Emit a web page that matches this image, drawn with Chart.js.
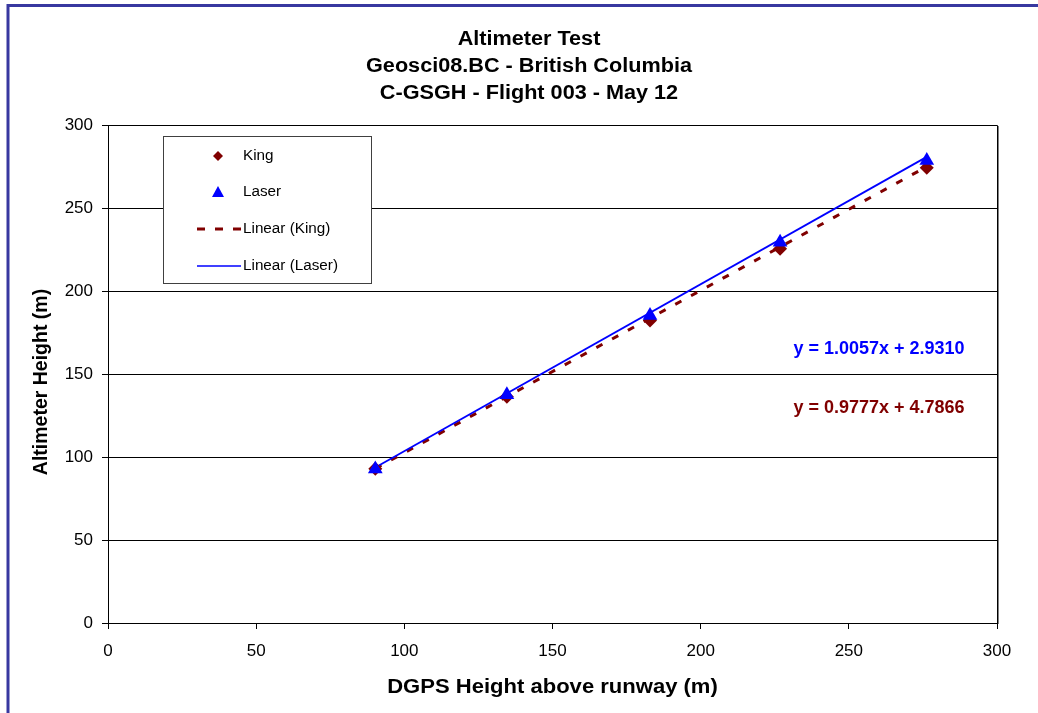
<!DOCTYPE html>
<html>
<head>
<meta charset="utf-8">
<script src="https://cdn.jsdelivr.net/npm/chart.js@4/dist/chart.umd.min.js"></script>
<style>
html,body{margin:0;padding:0;background:#fff;}
#wrap{width:1038px;height:713px;position:relative;}
</style>
</head>
<body>
<div id="wrap"><canvas id="c" width="1038" height="713"></canvas></div>
<script>
// ---- Data ----
const titleLines = ["Altimeter Test", "Geosci08.BC - British Columbia", "C-GSGH - Flight 003 - May 12"];
const xTitle = "DGPS Height above runway (m)";
const yTitle = "Altimeter Height (m)";
const dgpsHeight = [90.2, 134.6, 182.9, 226.8, 276.3];
const kingHeight = [92.9, 136.3, 182.2, 225.5, 274.3];
const laserHeight = [92.8, 137.5, 185.2, 229.4, 278.6];
const kingFit = [0.9777, 4.7866];   // slope, intercept
const laserFit = [1.0057, 2.9310];
const kingEq = "y = 0.9777x + 4.7866";
const laserEq = "y = 1.0057x + 2.9310";
const legendLabels = ["King", "Laser", "Linear (King)", "Linear (Laser)"];
const axisTicks = [0, 50, 100, 150, 200, 250, 300];

const FONT = "'Liberation Sans', Arial, sans-serif";
const KING_C = "#800000";
const LASER_C = "#0000ff";

const pts = (xs, ys) => xs.map((x, i) => ({x: x, y: ys[i]}));
const xMin = Math.min(...dgpsHeight), xMax = Math.max(...dgpsHeight);
const fitLine = (f) => [{x: xMin, y: f[0] * xMin + f[1]}, {x: xMax, y: f[0] * xMax + f[1]}];

function stretchText(ctx, text, x, y, sx) {
  ctx.save();
  ctx.translate(x, y);
  ctx.scale(sx, 1);
  ctx.fillText(text, 0, 0);
  ctx.restore();
}

const overlay = {
  id: 'overlay',
  beforeDraw(chart) {
    const ctx = chart.ctx;
    ctx.save();
    ctx.fillStyle = '#fff';
    ctx.fillRect(0, 0, chart.width, chart.height);
    ctx.restore();
  },
  afterDraw(chart) {
    const ctx = chart.ctx;
    const ca = chart.chartArea;
    ctx.save();
    // outer border (top & left visible)
    ctx.strokeStyle = '#3838a0';
    ctx.lineWidth = 3;
    ctx.beginPath();
    ctx.moveTo(8, 713);
    ctx.lineTo(8, 5.5);
    ctx.lineTo(1040, 5.5);
    ctx.stroke();

    // plot frame
    ctx.strokeStyle = '#000';
    ctx.lineWidth = 1;
    ctx.beginPath();
    ctx.moveTo(ca.left, ca.top + 0.5);
    ctx.lineTo(ca.right + 0.5, ca.top + 0.5);
    ctx.lineTo(ca.right + 0.5, ca.bottom);
    ctx.stroke();
    ctx.strokeStyle = '#808080';
    ctx.beginPath();
    ctx.moveTo(ca.right + 1.5, ca.top + 1);
    ctx.lineTo(ca.right + 1.5, ca.bottom + 1);
    ctx.stroke();

    // titles
    ctx.fillStyle = '#000';
    ctx.textAlign = 'center';
    ctx.textBaseline = 'middle';
    ctx.font = "bold 19.5px " + FONT;
    const tys = [40, 67, 94];
    titleLines.forEach((t, i) => stretchText(ctx, t, 529, tys[i], 1.11));

    // axis titles
    ctx.font = "bold 19.5px " + FONT;
    stretchText(ctx, xTitle, (ca.left + ca.right) / 2, 688, 1.13);
    ctx.save();
    ctx.translate(42, 382);
    ctx.rotate(-Math.PI / 2);
    ctx.fillText(yTitle, 0, 0);
    ctx.restore();

    // equations
    ctx.font = "bold 18px " + FONT;
    ctx.fillStyle = LASER_C;
    ctx.fillText(laserEq, 879, 349);
    ctx.fillStyle = KING_C;
    ctx.fillText(kingEq, 879, 408);

    // legend
    const lx = 163.5, ly = 136.5, lw = 208, lh = 147;
    ctx.fillStyle = '#fff';
    ctx.fillRect(lx, ly, lw, lh);
    ctx.strokeStyle = '#404040';
    ctx.lineWidth = 1;
    ctx.strokeRect(lx, ly, lw, lh);
    const rows = [156, 192, 229, 266];
    const mx = 218;
    ctx.font = "14px " + FONT;
    ctx.textAlign = 'left';
    ctx.fillStyle = '#000';
    legendLabels.forEach((l, i) => stretchText(ctx, l, 243, rows[i] + 0.5, 1.09));
    // King diamond
    ctx.fillStyle = KING_C;
    ctx.beginPath();
    ctx.moveTo(mx, rows[0] - 5); ctx.lineTo(mx + 5, rows[0]); ctx.lineTo(mx, rows[0] + 5); ctx.lineTo(mx - 5, rows[0]);
    ctx.closePath(); ctx.fill();
    // Laser triangle
    ctx.fillStyle = LASER_C;
    ctx.beginPath();
    ctx.moveTo(mx, rows[1] - 6); ctx.lineTo(mx + 6, rows[1] + 5); ctx.lineTo(mx - 6, rows[1] + 5);
    ctx.closePath(); ctx.fill();
    // King dashed
    ctx.strokeStyle = KING_C;
    ctx.lineWidth = 3;
    ctx.setLineDash([8, 10]);
    ctx.beginPath(); ctx.moveTo(197, rows[2]); ctx.lineTo(241, rows[2]); ctx.stroke();
    ctx.setLineDash([]);
    ctx.strokeStyle = LASER_C;
    ctx.lineWidth = 1.5;
    ctx.beginPath(); ctx.moveTo(197, rows[3]); ctx.lineTo(241, rows[3]); ctx.stroke();
    ctx.restore();
  }
};

new Chart(document.getElementById('c'), {
  type: 'scatter',
  data: {
    datasets: [
      { label: legendLabels[1], data: pts(dgpsHeight, laserHeight), order: 0,
        pointStyle: 'triangle', pointRadius: 8.5, backgroundColor: LASER_C, borderColor: LASER_C, borderWidth: 0 },
      { label: legendLabels[0], data: pts(dgpsHeight, kingHeight), order: 1,
        pointStyle: 'rectRot', pointRadius: 7, backgroundColor: KING_C, borderColor: KING_C, borderWidth: 0 },
      { label: legendLabels[3], data: fitLine(laserFit), order: 2, type: 'line', showLine: true,
        pointRadius: 0, borderColor: LASER_C, borderWidth: 1.8, fill: false },
      { label: legendLabels[2], data: fitLine(kingFit), order: 3, type: 'line', showLine: true,
        pointRadius: 0, borderColor: KING_C, borderWidth: 3, borderDash: [7, 11], fill: false }
    ]
  },
  options: {
    responsive: false,
    animation: false,
    devicePixelRatio: 1,
    layout: { padding: { left: 0, top: 125, right: 41, bottom: 0 } },
    plugins: { legend: { display: false }, title: { display: false }, tooltip: { enabled: false } },
    scales: {
      x: {
        type: 'linear', min: 0, max: 300,
        afterBuildTicks: (s) => { s.ticks = axisTicks.map(v => ({value: v})); },
        afterFit: (s) => { s.height = 90; },
        grid: { drawOnChartArea: false, drawTicks: true, tickLength: 6, color: '#000', lineWidth: 1 },
        border: { display: true, color: '#000', width: 1 },
        ticks: { color: '#000', font: { family: FONT, size: 17 }, padding: 12, maxRotation: 0 }
      },
      y: {
        type: 'linear', min: 0, max: 300,
        afterBuildTicks: (s) => { s.ticks = axisTicks.map(v => ({value: v})); },
        afterFit: (s) => { s.width = 108; },
        grid: { drawOnChartArea: true, drawTicks: true, tickLength: 6, color: '#000', lineWidth: 1 },
        border: { display: true, color: '#000', width: 1 },
        ticks: { color: '#000', font: { family: FONT, size: 17 }, padding: 9 }
      }
    }
  },
  plugins: [overlay]
});
</script>
</body>
</html>
